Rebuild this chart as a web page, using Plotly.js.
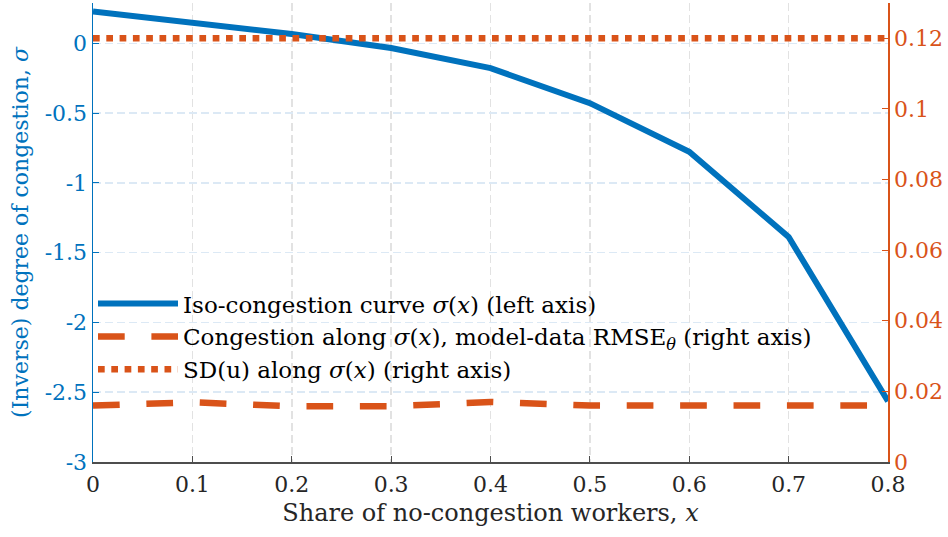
<!DOCTYPE html>
<html>
<head>
<meta charset="utf-8">
<script src="https://cdn.plot.ly/plotly-3.0.1.min.js"></script>
<style>html,body{margin:0;padding:0;background:#fff;}#chart{width:948px;height:537px;}</style>
</head>
<body>
<div id="chart"></div>
<script>
// x: share of no-congestion workers
const shareX = [0, 0.1, 0.2, 0.3, 0.4, 0.5, 0.6, 0.7, 0.8];
// left axis: iso-congestion curve sigma(x)
const sigmaCurve = [0.230, 0.151, 0.068, -0.033, -0.177, -0.428, -0.776, -1.387, -2.565];
// right axis: model-data RMSE along sigma(x)
const rmseTheta = [0.0160, 0.0169, 0.0158, 0.0158, 0.0170, 0.0160, 0.0160, 0.0160, 0.0160];
// right axis: SD(u) along sigma(x)
const sdU = [0.120, 0.120, 0.120, 0.120, 0.120, 0.120, 0.120, 0.120, 0.120];

const xTickVals = [0, 0.1, 0.2, 0.3, 0.4, 0.5, 0.6, 0.7, 0.8];
const xTickText = ['0', '0.1', '0.2', '0.3', '0.4', '0.5', '0.6', '0.7', '0.8'];
const yLeftTickVals = [-3, -2.5, -2, -1.5, -1, -0.5, 0];
const yLeftTickText = ['-3', '-2.5', '-2', '-1.5', '-1', '-0.5', '0'];
const yRightTickVals = [0, 0.02, 0.04, 0.06, 0.08, 0.1, 0.12];
const yRightTickText = ['0', '0.02', '0.04', '0.06', '0.08', '0.1', '0.12'];

const seriesNames = [
  'Iso-congestion curve <i>σ</i>(<i>x</i>) (left axis)',
  'Congestion along <i>σ</i>(<i>x</i>), model-data RMSE<sub><i>θ</i></sub> (right axis)',
  'SD(u) along <i>σ</i>(<i>x</i>) (right axis)'
];

const BLUE = '#0072BD';
const ORANGE = '#D95319';
const FONT = '"DejaVu Serif", "Liberation Serif", serif';

const traces = [
  {x: shareX, y: sigmaCurve, type: 'scatter', mode: 'lines', name: seriesNames[0],
   line: {color: BLUE, width: 6}, yaxis: 'y'},
  {x: shareX, y: rmseTheta, type: 'scatter', mode: 'lines', name: seriesNames[1],
   line: {color: ORANGE, width: 6.5, dash: '26.7px,26.7px'}, yaxis: 'y2'},
  {x: shareX, y: sdU, type: 'scatter', mode: 'lines', name: seriesNames[2],
   line: {color: ORANGE, width: 6.5, dash: '6.7px,6.6px'}, yaxis: 'y2'}
];

const layout = {
  width: 948, height: 537,
  margin: {l: 93, r: 60, t: 3, b: 75, pad: 0},
  paper_bgcolor: '#fff', plot_bgcolor: '#fff',
  font: {family: FONT, size: 22, color: '#262626'},
  showlegend: true,
  legend: {x: 0.0, y: 0.392, xanchor: 'left', yanchor: 'top', bgcolor: 'rgba(0,0,0,0)',
           font: {family: FONT, size: 23, color: '#000'}, itemwidth: 80, tracegroupgap: 0},
  xaxis: {range: [0, 0.8], tickvals: xTickVals, ticktext: xTickText,
          showline: true, linecolor: '#4d4d4d', linewidth: 1.5, mirror: false,
          ticks: 'inside', ticklen: 6, tickcolor: '#4d4d4d', tickwidth: 1,
          ticklabelstandoff: 2,
          showgrid: true, gridcolor: '#e2e2e2', griddash: '8px,4px', gridwidth: 1.5,
          zeroline: false, tickfont: {family: FONT, size: 22, color: '#262626'},
          title: {text: 'Share of no-congestion workers, <i>x</i>', font: {family: FONT, size: 24, color: '#262626'}, standoff: 8}},
  yaxis: {range: [-3, 0.29], tickvals: yLeftTickVals, ticktext: yLeftTickText,
          showline: true, linecolor: BLUE, linewidth: 1.5,
          ticks: 'inside', ticklen: 6, tickcolor: BLUE,
          showgrid: true, gridcolor: '#dce9f5', griddash: '8px,4px', gridwidth: 1.5,
          zeroline: false, tickfont: {family: FONT, size: 22, color: BLUE},
          title: {text: '(Inverse) degree of congestion, <i>σ</i>', font: {family: FONT, size: 22, color: BLUE}, standoff: 10}},
  yaxis2: {range: [0, 0.13], tickvals: yRightTickVals, ticktext: yRightTickText,
           overlaying: 'y', side: 'right',
           showline: true, linecolor: ORANGE, linewidth: 1.5,
           ticks: 'inside', ticklen: 6, tickcolor: ORANGE,
           showgrid: false, zeroline: false, tickfont: {family: FONT, size: 22, color: ORANGE}}
};

Plotly.newPlot('chart', traces, layout, {displayModeBar: false, staticPlot: true});
</script>
</body>
</html>
